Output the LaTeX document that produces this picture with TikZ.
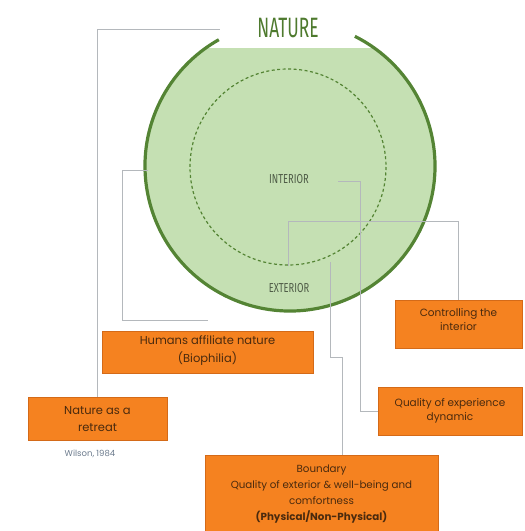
\documentclass[tikz,border=0pt]{standalone}
\usepackage{fontspec}
\setmainfont{Poppins}
\newfontfamily\condfont{Fira Sans}
\definecolor{orfill}{HTML}{F58220}
\definecolor{oredge}{HTML}{D46A18}
\definecolor{ortext}{HTML}{4A2A0E}
\definecolor{grfill}{HTML}{C5E0B3}
\definecolor{grline}{HTML}{548434}
\definecolor{grtext}{HTML}{4E7A2E}
\definecolor{intext}{HTML}{4F5C47}
\definecolor{lnk}{HTML}{B4B8BC}
\definecolor{cite}{HTML}{6B7A8C}
\tikzset{
  obox/.style={draw=oredge, fill=orfill, line width=0.8pt, inner sep=0pt, align=center, text=ortext},
  link/.style={draw=lnk, line width=0.9pt},
  ptext/.style={align=center, text=ortext, inner sep=0pt},
}
\begin{document}
\begin{tikzpicture}[x=1pt,y=-1pt]
\useasboundingbox (0,0) rectangle (525,531);
\clip (0,0) rectangle (525,531);
\coordinate (cc) at (290,166);
\coordinate (dc) at (288,167);
\coordinate (c1) at (220,29);
\coordinate (h1) at (148,170);
\coordinate (h2) at (208,320);
\coordinate (i1) at (338,181);
\coordinate (d1) at (288,266);
\coordinate (d2) at (330,262);
\coordinate (b1) at (342,455);
% circle fill
\begin{scope}
\clip (0,48) rectangle (525,531);
\fill[grfill] (cc) circle (145);
\end{scope}
\draw[grline, line width=3.2pt] ([shift={(-63.4:145)}]cc) arc[start angle=-63.4, end angle=240.6, radius=145];
\draw[grline, line width=1.2pt, dash pattern=on 3pt off 2.5pt] (dc) circle (98);
% boxes
\node[obox, minimum width=211, minimum height=42] (hum) at (207.5,352) {};
\node[ptext, font={\fontsize{11.5}{18}\selectfont}] (humt) at (207.5,351) {Humans affiliate nature\\(Biophilia)};
\node[obox, minimum width=127, minimum height=48] (ctrl) at (458.5,324) {};
\node[ptext, font={\fontsize{10.5}{14}\selectfont}] (ctrlt) at (458.5,320) {Controlling the\\interior};
\node[obox, minimum width=139, minimum height=43] (ret) at (97.5,418.5) {};
\node[ptext, font={\fontsize{11.5}{17}\selectfont}] (rett) at (97.5,419) {Nature as a\\retreat};
\node[obox, minimum width=144, minimum height=48] (qual) at (450,411) {};
\node[ptext, font={\fontsize{10.5}{14}\selectfont}] (qualt) at (450,411) {Quality of experience\\dynamic};
\node[obox, minimum width=233, minimum height=85] (bnd) at (321.5,497.5) {};
\node[ptext, font={\fontsize{10.3}{16}\selectfont}] (bndt) at (321.5,494) {Boundary\\Quality of exterior \& well-being and\\comfortness\\\textbf{(Physical/Non-Physical)}};
\node[text=cite, inner sep=0pt, font={\fontsize{8.5}{9}\selectfont}] (wil) at (90,454) {Wilson, 1984};
% labels
\node[text=grtext, inner sep=0pt] (title) at (288,28) {\condfont\fontsize{28}{30}\selectfont\scalebox{0.62}[1]{NATURE}};
\node[text=intext, inner sep=0pt] (int) at (289,179) {\condfont\fontsize{13}{14}\selectfont\scalebox{0.72}[1]{INTERIOR}};
\node[text=intext, inner sep=0pt] (ext) at (289,288) {\condfont\fontsize{13}{14}\selectfont\scalebox{0.72}[1]{EXTERIOR}};
% connectors
\draw[link] (ret.north) |- (c1);
\draw[link] (h1) -- (122,170) -- (122,320) -- (h2);
\draw[link] (i1) -- (360,181) |- (qual.west);
\draw[link] (d1) -- (288,221) -| (ctrl.north);
\draw[link] (d2) -- (330,357) -- (342,357) -- (b1);
\end{tikzpicture}
\end{document}
